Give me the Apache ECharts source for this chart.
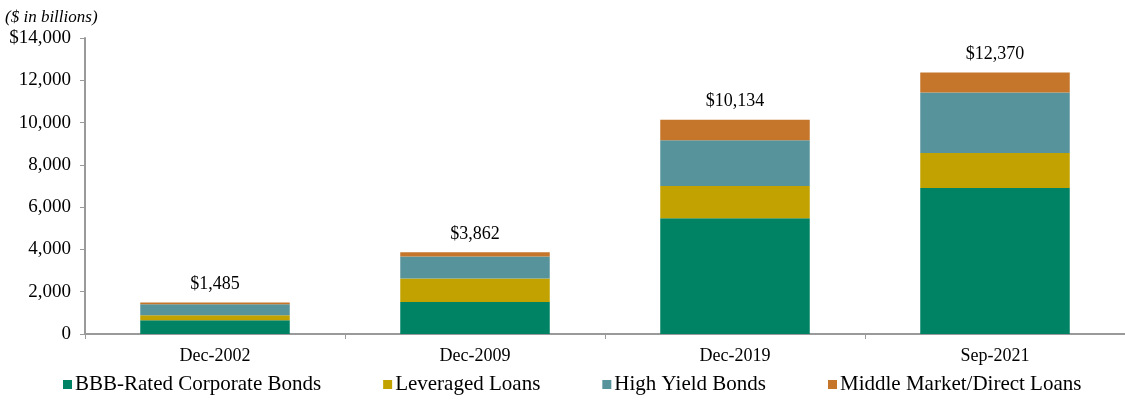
<!DOCTYPE html>
<html>
<head>
<meta charset="utf-8">
<script src="https://cdn.jsdelivr.net/npm/echarts@6/dist/echarts.min.js"></script>
<style>html,body{margin:0;padding:0;background:#fff}#c{width:1125px;height:413px}</style>
</head>
<body>
<div id="c"></div>
<script>
const categories = ['Dec-2002', 'Dec-2009', 'Dec-2019', 'Sep-2021'];
const bbbBonds = [650, 1510, 5470, 6900];
const leveragedLoans = [235, 1120, 1535, 1660];
const highYield = [525, 1030, 2155, 2865];
const middleMarket = [75, 202, 974, 945];
const totals = [1485, 3862, 10134, 12370];
const seriesNames = ['BBB-Rated Corporate Bonds', 'Leveraged Loans', 'High Yield Bonds', 'Middle Market/Direct Loans'];
const colors = ['#008264', '#C2A200', '#57939B', '#C5762A'];

const font = 'Liberation Serif';
const chart = echarts.init(document.getElementById('c'), null, {renderer: 'canvas'});
const dataSets = [bbbBonds, leveragedLoans, highYield, middleMarket];
const series = dataSets.map((d, i) => ({
  name: seriesNames[i],
  type: 'bar',
  stack: 'total',
  data: d,
  barCategoryGap: '42.5%',
  itemStyle: {color: colors[i]},
  emphasis: {disabled: true},
  label: i === 3 ? {
    show: true, position: 'top', distance: 9,
    fontFamily: font, fontSize: 18, color: '#000',
    formatter: p => '$' + totals[p.dataIndex].toLocaleString('en-US')
  } : {show: false}
}));

chart.setOption({
  animation: false,
  color: colors,
  title: {
    text: '($ in billions)', left: 0, top: 4,
    textStyle: {fontFamily: font, fontStyle: 'italic', fontWeight: 'normal', fontSize: 17, color: '#000'}
  },
  legend: {
    data: seriesNames, bottom: 13, left: 58,
    icon: 'rect', itemWidth: 9, itemHeight: 9, itemGap: 62,
    textStyle: {fontFamily: font, fontSize: 21, color: '#000', padding: [0, 0, 0, -2]}
  },
  grid: {left: 85, right: -6, top: 38, bottom: 79, containLabel: false},
  xAxis: {
    type: 'category', data: categories,
    axisLine: {lineStyle: {color: '#9a9a9a', width: 2}},
    axisTick: {show: true, alignWithLabel: false, length: 5, lineStyle: {color: '#9a9a9a'}},
    axisLabel: {fontFamily: font, fontSize: 18, color: '#000', margin: 13}
  },
  yAxis: {
    type: 'value', min: 0, max: 14000, interval: 2000,
    axisLine: {show: true, lineStyle: {color: '#9a9a9a', width: 2}},
    axisTick: {show: true, length: 5, lineStyle: {color: '#9a9a9a'}},
    splitLine: {show: false},
    axisLabel: {
      fontFamily: font, fontSize: 19, color: '#000', margin: 14,
      formatter: v => (v === 14000 ? '$' : '') + v.toLocaleString('en-US')
    }
  },
  series: series
});
</script>
</body>
</html>
